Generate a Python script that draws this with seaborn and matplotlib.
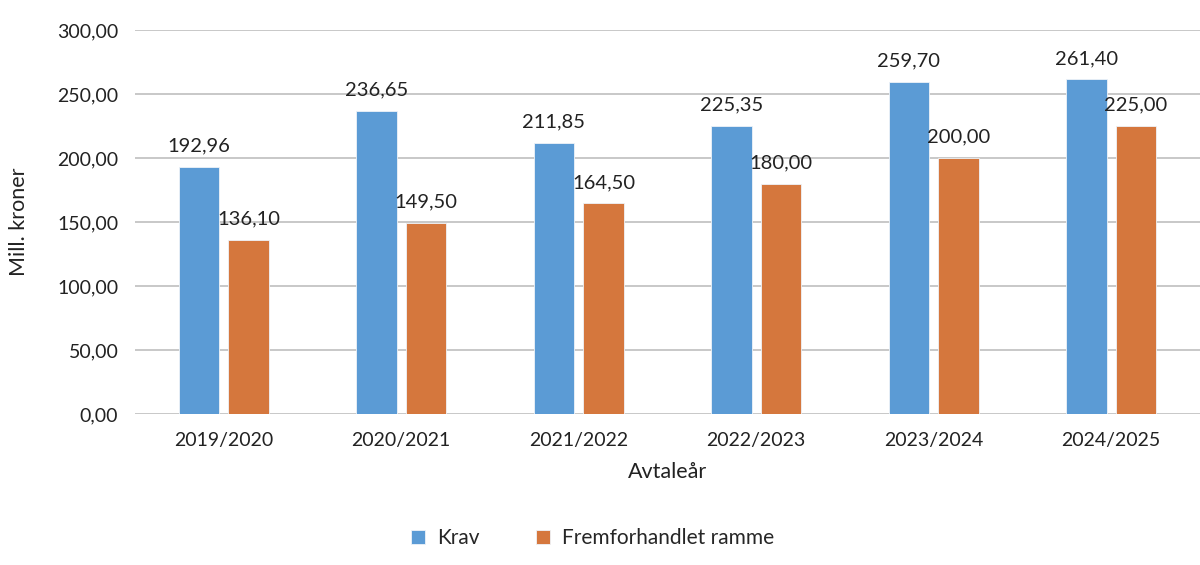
import pandas as pd
import seaborn as sns
import matplotlib.pyplot as plt

# data
years = ['2019/2020', '2020/2021', '2021/2022', '2022/2023', '2023/2024', '2024/2025']
krav = [192.96, 236.65, 211.85, 225.35, 259.70, 261.40]
ramme = [136.10, 149.50, 164.50, 180.00, 200.00, 225.00]
series_names = ['Krav', 'Fremforhandlet ramme']
y_ticks = [0, 50, 100, 150, 200, 250, 300]

df = pd.DataFrame({
    'year': years * 2,
    'value': krav + ramme,
    'series': [series_names[0]] * len(years) + [series_names[1]] * len(years),
})

sns.set_style('white')
plt.rcParams['font.family'] = ['Lato', 'DejaVu Sans']

fig = plt.figure(figsize=(12, 5.65), dpi=100)
ax = fig.add_axes([0.1125, 0.267, 0.8875, 0.68])

sns.barplot(data=df, x='year', y='value', hue='series',
            palette=['#5B9BD5', '#D5773D'], saturation=1, width=0.56, gap=0.18,
            edgecolor='#EEF3F8', linewidth=0.6, ax=ax, zorder=3)

# value labels above each bar, Norwegian decimal comma
for container in ax.containers:
    labels = [f'{v:.2f}'.replace('.', ',') for v in container.datavalues]
    ax.bar_label(container, labels=labels, padding=9, fontsize=14.5, color='#222222')

ax.set_ylim(0, 300)
ax.set_yticks(y_ticks)
ax.set_yticklabels([f'{t:.2f}'.replace('.', ',') for t in y_ticks])
ax.yaxis.grid(True, color='#BFBFBF', linewidth=1.2, zorder=0)
ax.set_axisbelow(True)
for s in ax.spines.values():
    s.set_visible(False)
ax.tick_params(axis='both', length=0, labelsize=14, colors='#222222', pad=12)
ax.tick_params(axis='x', pad=13)
ax.set_xlim(-0.5, 5.5)

ax.set_ylabel('Mill. kroner', fontsize=15.5, color='#222222', labelpad=20)
ax.set_xlabel('Avtaleår', fontsize=15.5, color='#222222', labelpad=9)

ax.legend(loc='center', bbox_to_anchor=(0.43, -0.323), ncol=2, frameon=False,
          fontsize=15, handlelength=0.65, handleheight=0.65, columnspacing=2.7,
          handletextpad=0.6)

fig.savefig('out.png', dpi=100)
